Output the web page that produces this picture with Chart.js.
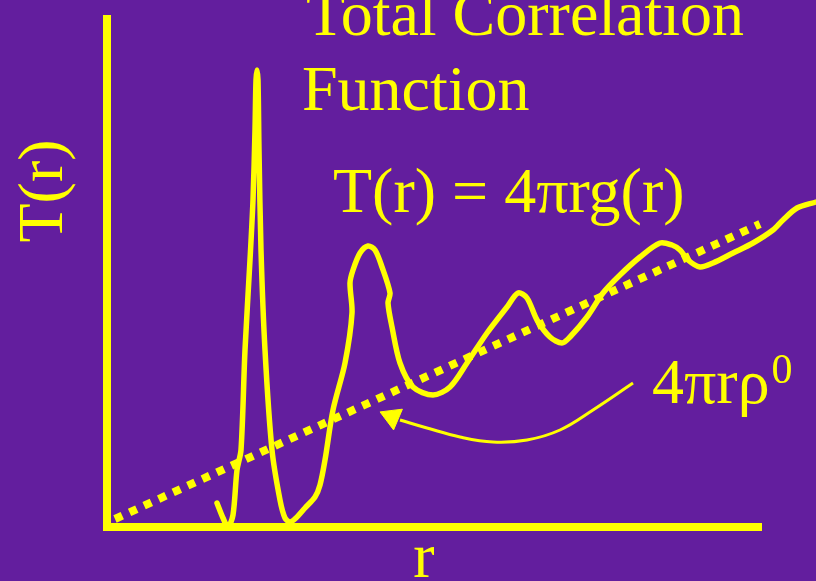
<!DOCTYPE html>
<html>
<head>
<meta charset="utf-8">
<script src="https://cdn.jsdelivr.net/npm/chart.js@4"></script>
<style>
  html, body { margin: 0; padding: 0; background: #631e9e; }
  #wrap { width: 816px; height: 581px; }
</style>
</head>
<body>
<div id="wrap"><canvas id="c" width="816" height="581"></canvas></div>
<script>
// r and T(r) in arbitrary units
const curveR = [11.2, 11.8, 12.3, 12.8, 13.2, 13.6, 14.0, 14.5, 14.8, 15.0, 15.1, 15.2, 15.3, 15.4, 15.6, 16.0, 16.7, 17.5, 18.0, 18.5, 19.1, 20.0, 21.0, 21.5, 22.0, 22.8, 24.0, 24.7, 24.5, 24.8, 25.5, 26.3, 27.0, 27.7, 28.5, 28.3, 28.7, 29.5, 30.8, 32.8, 34.5, 36.2, 38.2, 40.2, 41.3, 42.2, 43.2, 44.5, 45.7, 46.5, 48.2, 49.8, 51.5, 53.5, 55.5, 56.7, 57.5, 58.3, 59.5, 60.8, 62.8, 64.8, 66.8, 67.8, 69.2, 71.1];
const curveT = [2.2, 0.7, -0.2, 1.0, 5.5, 7.5, 17.5, 26.5, 32.5, 39.5, 44.5, 45.5, 44.5, 37.5, 27.5, 17.5, 7.5, 2.5, 0.7, 0.3, 0.7, 1.7, 2.8, 4.0, 6.5, 11.5, 16.2, 21.2, 24.2, 25.5, 27.2, 27.9, 27.5, 25.8, 23.2, 22.2, 19.8, 16.2, 13.8, 13.0, 13.8, 16.2, 19.2, 21.8, 23.2, 22.7, 20.5, 18.8, 18.2, 18.8, 20.8, 23.2, 25.0, 26.8, 28.2, 28.0, 27.5, 26.5, 25.8, 26.2, 27.2, 28.2, 29.5, 30.5, 31.7, 32.3];

// 4 pi r rho0 : straight line
const densityR = [1.0, 65.5];
const densityT = [0.6, 30.1];

// axes
const axisR = [0.2, 0.2, 65.7];
const axisT = [51.0, -0.2, -0.2];

// arrow pointing at the dotted line
const arrowR = [52.8, 48.8, 45.5, 42.2, 38.8, 35.5, 32.2, 29.5];
const arrowT = [14.2, 11.5, 9.5, 8.5, 8.3, 8.8, 9.7, 10.5];
const headR = [28.7];
const headT = [10.8];

const YELLOW = '#ffff00';
const SERIF = '"Liberation Serif", "Times New Roman", serif';

function pts(xs, ys) {
  return xs.map((x, i) => ({ x, y: ys[i] }));
}

const labels = {
  id: 'labels',
  afterDraw(chart) {
    const ctx = chart.ctx;
    ctx.save();
    ctx.fillStyle = YELLOW;
    ctx.textBaseline = 'alphabetic';
    ctx.font = `64px ${SERIF}`;
    ctx.textAlign = 'left';
    ctx.fillText('Total Correlation', 306, 35);
    ctx.fillText('Function', 302, 110);
    ctx.fillText('T(r) = 4\u03c0rg(r)', 333, 212);
    ctx.fillText('4\u03c0r\u03c1', 652, 403);
    const w = ctx.measureText('4\u03c0r\u03c1').width;
    ctx.font = `42px ${SERIF}`;
    ctx.fillText('0', 652 + w + 2, 383);
    ctx.font = `64px ${SERIF}`;
    ctx.textAlign = 'center';
    ctx.fillText('r', 424, 577);
    ctx.translate(62, 191);
    ctx.rotate(-Math.PI / 2);
    ctx.fillText('T(r)', 0, 0);
    ctx.restore();
  }
};

new Chart(document.getElementById('c'), {
  type: 'line',
  data: {
    datasets: [
      {
        data: pts(axisR, axisT),
        borderColor: YELLOW, borderWidth: 8,
        borderJoinStyle: 'miter', pointRadius: 0, tension: 0
      },
      {
        data: pts(densityR, densityT),
        borderColor: YELLOW, borderWidth: 8,
        borderDash: [8, 8], borderCapStyle: 'butt', pointRadius: 0, tension: 0
      },
      {
        data: pts(curveR, curveT),
        borderColor: YELLOW, borderWidth: 5.5,
        borderCapStyle: 'round', borderJoinStyle: 'round',
        pointRadius: 0, tension: 0.3
      },
      {
        data: pts(arrowR, arrowT),
        borderColor: YELLOW, borderWidth: 3,
        pointRadius: 0, tension: 0.4
      },
      {
        data: pts(headR, headT),
        showLine: false,
        pointStyle: 'triangle', pointRadius: 13, pointRotation: -67,
        pointBackgroundColor: YELLOW, pointBorderColor: YELLOW, pointBorderWidth: 1
      }
    ]
  },
  options: {
    responsive: false,
    animation: false,
    layout: { padding: 0, autoPadding: false },
    plugins: { legend: { display: false }, tooltip: { enabled: false } },
    scales: {
      x: { type: 'linear', min: -10.5, max: 71.1, display: false },
      y: { type: 'linear', min: -5.6, max: 52.5, display: false }
    },
    clip: false
  },
  plugins: [labels]
});
</script>
</body>
</html>
